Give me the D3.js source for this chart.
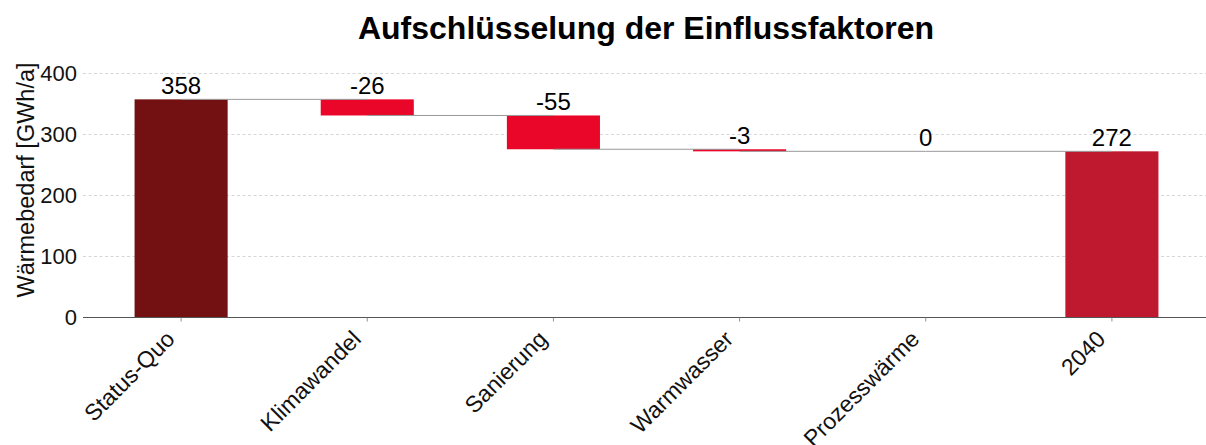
<!DOCTYPE html>
<html><head><meta charset="utf-8">
<script src="https://cdn.jsdelivr.net/npm/d3@7"></script>
<style>body{margin:0;background:#fff}svg{display:block;font-family:"Liberation Sans",Arial,sans-serif}</style>
</head><body><svg id="c" width="1206" height="445"></svg>
<script>
const categories = ["Status-Quo","Klimawandel","Sanierung","Warmwasser","Prozesswärme","2040"];
const startValue = 357.6;
const deltas = [-26.4, -55.4, -3.4, 0];
const yTicks = [0,100,200,300,400];
const title = "Aufschlüsselung der Einflussfaktoren";
const yLabel = "Wärmebedarf [GWh/a]";

const colStart = "#721012", colDelta = "#e90628", colEnd = "#be192e";

// build waterfall
const bars = [];
let cum = startValue;
bars.push({cat:categories[0], lo:0, hi:startValue, val:startValue, end:startValue, color:colStart});
deltas.forEach((d,i)=>{
  const prev = cum; cum += d;
  bars.push({cat:categories[i+1], lo:Math.min(prev,cum), hi:Math.max(prev,cum), top:prev, val:d, end:cum, color:colDelta});
});
bars.push({cat:categories[5], lo:0, hi:cum, val:cum, end:cum, color:colEnd});

const svg = d3.select("#c");
const x = d3.scaleLinear().domain([-0.527, 5.527]).range([83, 1210]);
const y = d3.scaleLinear().domain([0,400]).range([317.5, 73.5]);
const bw = 0.5;

// grid
svg.append("g").selectAll("line").data(yTicks.filter(t=>t>0)).join("line")
  .attr("x1",83).attr("x2",1206).attr("y1",d=>y(d)).attr("y2",d=>y(d))
  .attr("stroke","#cccccc").attr("stroke-width",0.8).attr("stroke-dasharray","3,2.5");

// y tick labels
svg.append("g").selectAll("text").data(yTicks).join("text")
  .attr("x",77).attr("y",d=>y(d)).attr("dy","0.36em").attr("text-anchor","end")
  .attr("font-size",22).attr("fill","#111").text(d=>d);

// bars
svg.append("g").selectAll("rect").data(bars).join("rect")
  .attr("x",(d,i)=>x(i-bw/2)).attr("width",(d,i)=>x(i+bw/2)-x(i-bw/2))
  .attr("y",d=>y(d.hi)).attr("height",d=>Math.max(0,y(d.lo)-y(d.hi)))
  .attr("fill",d=>d.color);

// connectors
const conn = bars.slice(0,-1).map((b,i)=>({i, v:b.end}));
svg.append("g").selectAll("line").data(conn).join("line")
  .attr("x1",d=>x(d.i)).attr("x2",d=>x(d.i+1)).attr("y1",d=>y(d.v)).attr("y2",d=>y(d.v))
  .attr("stroke","#999999").attr("stroke-width",1);

// value labels
const fmt = v => { const r = Math.round(v); return (r===0?0:r).toString(); };
svg.append("g").selectAll("text").data(bars).join("text")
  .attr("x",(d,i)=>x(i)).attr("y",d=>y(d.top!==undefined?d.top:d.hi)-5)
  .attr("text-anchor","middle").attr("font-size",24).attr("fill","#000")
  .text(d=>fmt(d.val));

// x axis
svg.append("line").attr("x1",83).attr("x2",1206).attr("y1",y(0)).attr("y2",y(0))
  .attr("stroke","#555").attr("stroke-width",1);
svg.append("g").selectAll("line").data(categories).join("line")
  .attr("x1",(d,i)=>x(i)).attr("x2",(d,i)=>x(i)).attr("y1",y(0)).attr("y2",y(0)+4)
  .attr("stroke","#777").attr("stroke-width",0.8);
svg.append("g").selectAll("text").data(categories).join("text")
  .attr("transform",(d,i)=>`translate(${x(i)-5},${y(0)+23}) rotate(-45)`)
  .attr("text-anchor","end").attr("font-size",23).attr("fill","#111")
  .text(d=>d);

// y label
svg.append("text").attr("transform","translate(34,180) rotate(-90)")
  .attr("text-anchor","middle").attr("font-size",23.5).attr("fill","#111").text(yLabel);

// title
svg.append("text").attr("x",646).attr("y",39).attr("text-anchor","middle")
  .attr("font-size",32).attr("font-weight","bold").attr("fill","#000").text(title);
</script></body></html>
